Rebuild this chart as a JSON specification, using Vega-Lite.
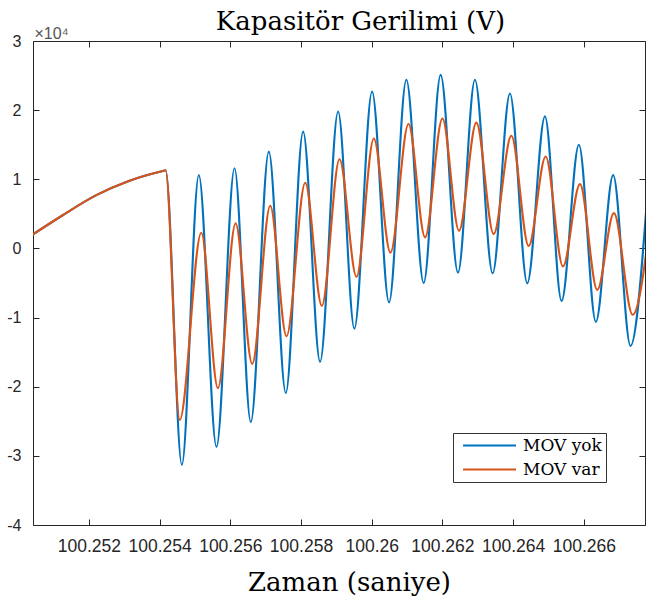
{
  "$schema": "https://vega.github.io/schema/vega-lite/v6.json",
  "width": 612,
  "height": 484,
  "autosize": {"type": "none"},
  "padding": {"left": 33, "top": 41, "right": 3, "bottom": 79},
  "background": "white",
  "data": {"values": [
    {"s": "MOV yok", "t": 100.25041, "v": 2000},
    {"s": "MOV yok", "t": 100.25126, "v": 4800},
    {"s": "MOV yok", "t": 100.25221, "v": 7700},
    {"s": "MOV yok", "t": 100.25315, "v": 9800},
    {"s": "MOV yok", "t": 100.25409, "v": 11200},
    {"s": "MOV yok", "t": 100.25417, "v": 11300},
    {"s": "MOV yok", "t": 100.25463, "v": -31300},
    {"s": "MOV yok", "t": 100.25511, "v": 10600},
    {"s": "MOV yok", "t": 100.25561, "v": -28700},
    {"s": "MOV yok", "t": 100.25612, "v": 11600},
    {"s": "MOV yok", "t": 100.25658, "v": -25100},
    {"s": "MOV yok", "t": 100.25709, "v": 14000},
    {"s": "MOV yok", "t": 100.25757, "v": -20900},
    {"s": "MOV yok", "t": 100.25806, "v": 16900},
    {"s": "MOV yok", "t": 100.25854, "v": -16400},
    {"s": "MOV yok", "t": 100.25905, "v": 19800},
    {"s": "MOV yok", "t": 100.25951, "v": -11600},
    {"s": "MOV yok", "t": 100.26001, "v": 22700},
    {"s": "MOV yok", "t": 100.26049, "v": -7800},
    {"s": "MOV yok", "t": 100.26098, "v": 24400},
    {"s": "MOV yok", "t": 100.26147, "v": -5000},
    {"s": "MOV yok", "t": 100.26195, "v": 25100},
    {"s": "MOV yok", "t": 100.26244, "v": -3500},
    {"s": "MOV yok", "t": 100.26292, "v": 24400},
    {"s": "MOV yok", "t": 100.26342, "v": -3600},
    {"s": "MOV yok", "t": 100.26391, "v": 22400},
    {"s": "MOV yok", "t": 100.2644, "v": -5050},
    {"s": "MOV yok", "t": 100.2649, "v": 19100},
    {"s": "MOV yok", "t": 100.26537, "v": -7600},
    {"s": "MOV yok", "t": 100.26586, "v": 15000},
    {"s": "MOV yok", "t": 100.26634, "v": -10600},
    {"s": "MOV yok", "t": 100.26683, "v": 10600},
    {"s": "MOV yok", "t": 100.26732, "v": -14100},
    {"s": "MOV yok", "t": 100.2678, "v": 8000},
    {"s": "MOV var", "t": 100.25041, "v": 2000},
    {"s": "MOV var", "t": 100.25126, "v": 4800},
    {"s": "MOV var", "t": 100.25221, "v": 7700},
    {"s": "MOV var", "t": 100.25315, "v": 9800},
    {"s": "MOV var", "t": 100.25409, "v": 11200},
    {"s": "MOV var", "t": 100.25417, "v": 11300},
    {"s": "MOV var", "t": 100.25457, "v": -24800},
    {"s": "MOV var", "t": 100.25518, "v": 2270},
    {"s": "MOV var", "t": 100.25565, "v": -20200},
    {"s": "MOV var", "t": 100.25615, "v": 3630},
    {"s": "MOV var", "t": 100.25662, "v": -16700},
    {"s": "MOV var", "t": 100.25713, "v": 6180},
    {"s": "MOV var", "t": 100.25759, "v": -12700},
    {"s": "MOV var", "t": 100.25812, "v": 9500},
    {"s": "MOV var", "t": 100.25859, "v": -8300},
    {"s": "MOV var", "t": 100.25909, "v": 12900},
    {"s": "MOV var", "t": 100.25957, "v": -4100},
    {"s": "MOV var", "t": 100.26006, "v": 15900},
    {"s": "MOV var", "t": 100.26053, "v": -600},
    {"s": "MOV var", "t": 100.26104, "v": 18000},
    {"s": "MOV var", "t": 100.26151, "v": 1600},
    {"s": "MOV var", "t": 100.262, "v": 18800},
    {"s": "MOV var", "t": 100.26247, "v": 2560},
    {"s": "MOV var", "t": 100.26296, "v": 18200},
    {"s": "MOV var", "t": 100.26345, "v": 2080},
    {"s": "MOV var", "t": 100.26395, "v": 16300},
    {"s": "MOV var", "t": 100.26444, "v": 350},
    {"s": "MOV var", "t": 100.26492, "v": 13300},
    {"s": "MOV var", "t": 100.26541, "v": -2600},
    {"s": "MOV var", "t": 100.26589, "v": 9300},
    {"s": "MOV var", "t": 100.26638, "v": -6000},
    {"s": "MOV var", "t": 100.26685, "v": 5100},
    {"s": "MOV var", "t": 100.26738, "v": -9600},
    {"s": "MOV var", "t": 100.26787, "v": 3500}
  ]},
  "layer": [
    {
      "transform": [{"filter": "datum.s === 'MOV yok'"}],
      "mark": {"type": "line", "strokeWidth": 2.1, "clip": true, "interpolate": "monotone"},
      "encoding": {
        "x": {"field": "t", "type": "quantitative",
          "scale": {"domain": [100.25042, 100.26773], "zero": false, "nice": false},
          "axis": {"orient": "bottom", "values": [100.252, 100.254, 100.256, 100.258, 100.26, 100.262, 100.264, 100.266], "format": ".6~g", "labelOverlap": false, "labelFlush": false, "tickSize": -6, "labelPadding": 18, "labelFontSize": 17.5, "title": "Zaman (saniye)", "titleFont": "DejaVu Serif", "titleFontSize": 26, "titleFontWeight": "normal", "titleColor": "#000000", "titleX": 316, "titleY": 65, "titleBaseline": "alphabetic"}},
        "y": {"field": "v", "type": "quantitative",
          "scale": {"domain": [-40000, 30000], "zero": false, "nice": false},
          "axis": {"orient": "left", "values": [-40000, -30000, -20000, -10000, 0, 10000, 20000, 30000], "labelExpr": "datum.value / 10000", "tickSize": -6, "labelPadding": 18, "labelFontSize": 16, "title": "×10⁴", "titleAngle": 0, "titleX": 1, "titleY": -3, "titleAlign": "left", "titleBaseline": "alphabetic", "titleFont": "Liberation Sans", "titleFontSize": 16, "titleFontWeight": "normal", "titleColor": "#555555"}},
        "color": {"field": "s", "type": "nominal", "scale": {"domain": ["MOV yok", "MOV var"], "range": ["#0072BD", "#D95319"]}}
      }
    },
    {
      "transform": [{"filter": "datum.s === 'MOV var'"}],
      "mark": {"type": "line", "strokeWidth": 2.1, "clip": true, "interpolate": "monotone"},
      "encoding": {
        "x": {"field": "t", "type": "quantitative", "axis": null},
        "y": {"field": "v", "type": "quantitative", "axis": null},
        "color": {"field": "s", "type": "nominal"}
      }
    },
    {
      "mark": {"type": "line", "opacity": 0, "clip": true},
      "encoding": {
        "x": {"field": "t", "type": "quantitative", "axis": {"orient": "top", "values": [100.252, 100.254, 100.256, 100.258, 100.26, 100.262, 100.264, 100.266], "labels": false, "tickSize": -6, "title": "Kapasitör Gerilimi (V)", "titleFont": "DejaVu Serif", "titleFontSize": 26, "titleFontWeight": "normal", "titleColor": "#000000", "titleX": 327, "titleY": -12, "titleBaseline": "alphabetic"}},
        "y": {"field": "v", "type": "quantitative", "axis": {"orient": "right", "values": [-40000, -30000, -20000, -10000, 0, 10000, 20000, 30000], "labels": false, "title": null, "tickSize": -6}},
        "detail": {"field": "s"}
      }
    }
  ],
  "resolve": {"axis": {"x": "independent", "y": "independent"}},
  "config": {
    "view": {"stroke": null},
    "font": "Liberation Sans",
    "axis": {"grid": false, "domainColor": "#262626", "domainWidth": 1, "tickColor": "#262626", "tickWidth": 1, "labelColor": "#262626", "labelFont": "Liberation Sans"},
    "legend": {"orient": "none", "legendX": 420, "legendY": 392, "title": null, "symbolType": "M-5,0H5", "symbolSize": 112, "symbolStrokeWidth": 2, "symbolFillColor": "transparent", "labelFont": "DejaVu Serif", "labelFontSize": 17, "labelColor": "#000000", "strokeColor": "#333333", "fillColor": "#ffffff", "padding": 4, "rowPadding": 6, "labelOffset": 25, "symbolOffset": 24}
  }
}
